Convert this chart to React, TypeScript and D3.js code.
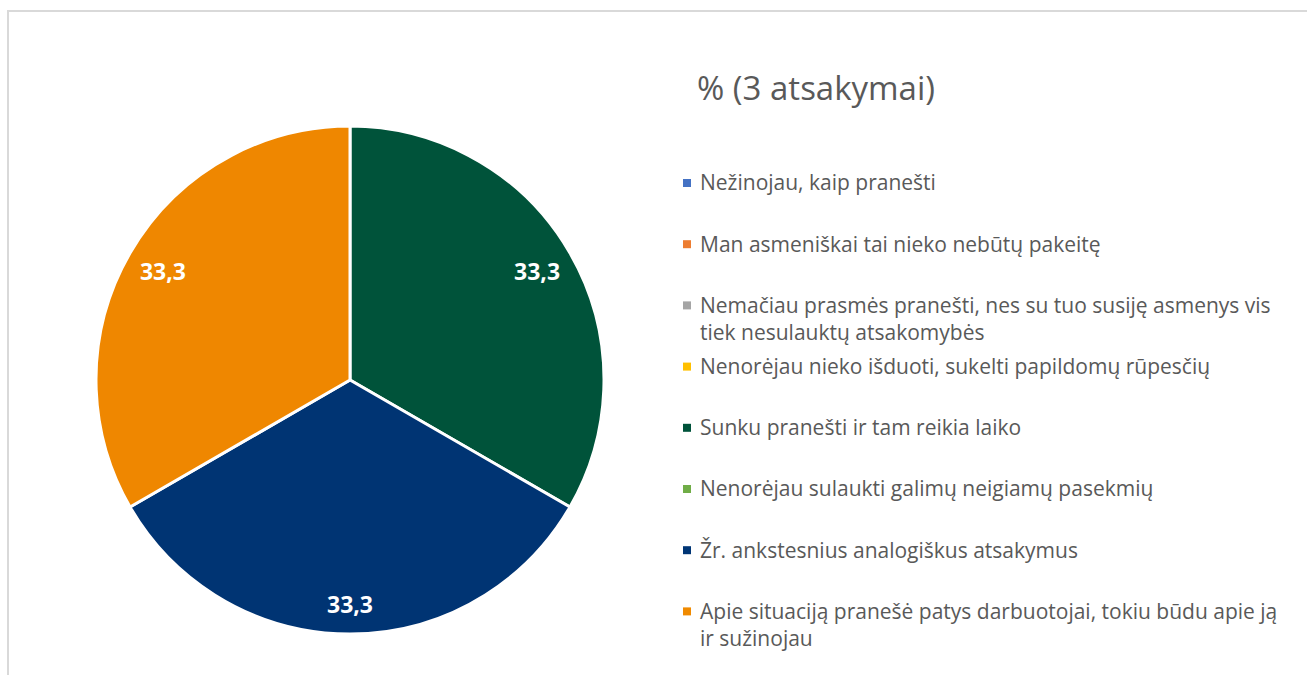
import React, { useEffect, useRef } from 'react';
import * as d3 from 'd3';

const categories = [
  'Nežinojau, kaip pranešti',
  'Man asmeniškai tai nieko nebūtų pakeitę',
  'Nemačiau prasmės pranešti, nes su tuo susiję asmenys vis tiek nesulauktų atsakomybės',
  'Nenorėjau nieko išduoti, sukelti papildomų rūpesčių',
  'Sunku pranešti ir tam reikia laiko',
  'Nenorėjau sulaukti galimų neigiamų pasekmių',
  'Žr. ankstesnius analogiškus atsakymus',
  'Apie situaciją pranešė patys darbuotojai, tokiu būdu apie ją ir sužinojau',
];
const values = [0, 0, 0, 0, 33.3, 0, 33.3, 33.3];
const sliceColors = ['#4472C4', '#ED7D31', '#A5A5A5', '#FFC000', '#00533A', '#70AD47', '#003473', '#EF8700'];
const legendColors = ['#4472C4', '#ED7D31', '#A5A5A5', '#FFC000', '#00533A', '#70AD47', '#003575', '#F08A00'];
const title = '% (3 atsakymai)';

const W = 1307;
const H = 675;

export default function App() {
  const ref = useRef<SVGSVGElement>(null);

  useEffect(() => {
    if (!ref.current) return;
    const svg = d3.select(ref.current);
    svg.selectAll('*').remove();

    // chart frame
    svg.append('rect')
      .attr('x', 8).attr('y', 11).attr('width', W + 20).attr('height', H + 20)
      .attr('fill', '#fff').attr('stroke', '#d9d9d9').attr('stroke-width', 2);

    const cx = 350, cy = 380, R = 254;
    const g = svg.append('g').attr('transform', `translate(${cx},${cy})`);

    const pie = d3.pie<number>().sort(null).value(d => d);
    const arcs = pie(values);
    const arc = d3.arc<d3.PieArcDatum<number>>().innerRadius(0).outerRadius(R);
    const labelArc = d3.arc<d3.PieArcDatum<number>>().innerRadius(432).outerRadius(0);

    g.selectAll('path')
      .data(arcs.filter(a => a.value > 0))
      .join('path')
      .attr('d', arc)
      .attr('fill', d => sliceColors[d.index])
      .attr('stroke', '#fff')
      .attr('stroke-width', 3)
      .attr('stroke-linejoin', 'round');

    g.selectAll('text.lbl')
      .data(arcs.filter(a => a.value > 0))
      .join('text')
      .attr('class', 'lbl')
      .attr('transform', d => {
        const [x, y] = labelArc.centroid(d);
        return `translate(${x},${y + (d.index === 6 ? 9 : 0)})`;
      })
      .attr('text-anchor', 'middle')
      .attr('dy', '0.36em')
      .attr('fill', '#fff')
      .attr('font-family', '"Open Sans", sans-serif')
      .attr('font-weight', 700)
      .attr('font-size', 23)
      .text(d => d3.format('.1f')(d.value).replace('.', ','));

    // legend
    const font = '"Open Sans", sans-serif';
    svg.append('text')
      .attr('x', 697).attr('y', 88).attr('dy', '0.35em')
      .attr('fill', '#595959')
      .attr('font-family', font)
      .attr('font-size', 33)
      .text(title);

    const lx = 683, ty = 183, step = 61.2, maxW = 586, lineH = 27;
    categories.forEach((c, i) => {
      const y = ty + i * step;
      svg.append('rect')
        .attr('x', lx).attr('y', y - 4).attr('width', 8).attr('height', 8)
        .attr('fill', legendColors[i]);
      const t = svg.append('text')
        .attr('x', lx + 17).attr('y', y).attr('dy', '0.35em')
        .attr('fill', '#595959')
        .attr('font-family', font)
        .attr('font-size', 21);
      const words = c.split(' ');
      let line: string[] = [];
      let ts = t.append('tspan').attr('x', lx + 17);
      words.forEach(w => {
        line.push(w);
        ts.text(line.join(' '));
        if ((ts.node() as SVGTSpanElement).getComputedTextLength() > maxW && line.length > 1) {
          line.pop();
          ts.text(line.join(' '));
          line = [w];
          ts = t.append('tspan').attr('x', lx + 17).attr('dy', lineH).text(w);
        }
      });
    });
  }, []);

  return (
    <svg ref={ref} width={W} height={H} style={{ position: 'absolute', left: 0, top: 0, display: 'block' }} />
  );
}
